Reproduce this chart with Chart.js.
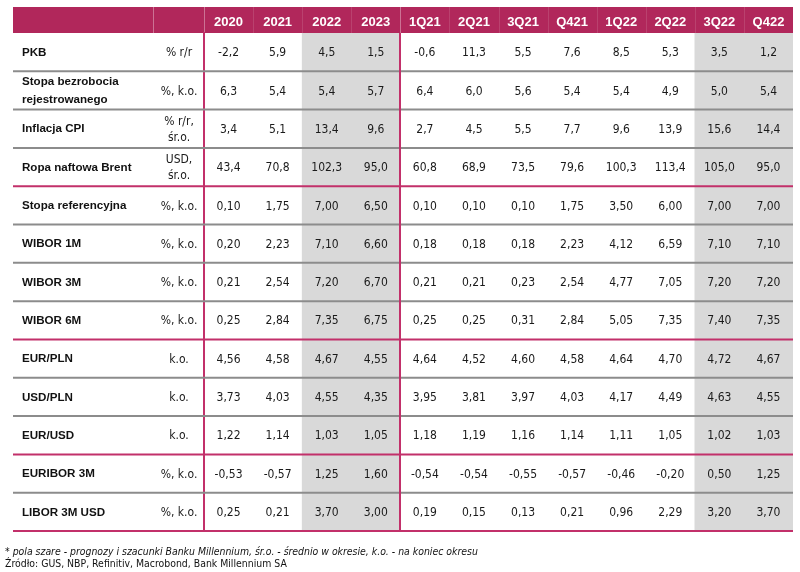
<!DOCTYPE html>
<html lang="pl">
<head>
<meta charset="utf-8">
<script src="https://cdn.jsdelivr.net/npm/chart.js@4.4.1/dist/chart.umd.min.js"></script>
<style>
  body { margin: 0; background: #fff; }
  #wrap { position: relative; width: 800px; height: 572px; }
  #note { position: absolute; left: 5px; top: 545px; font: 10.4px 'DejaVu Sans Condensed', 'DejaVu Sans', sans-serif; color: #111; line-height: 12px; }
  #note i { font-style: italic; }
</style>
</head>
<body>
<div id="wrap">
  <canvas id="tbl" width="800" height="572"></canvas>
  <div id="note">* <i>pola szare - prognozy i szacunki Banku Millennium, śr.o. - średnio w okresie, k.o. - na koniec okresu</i><br>Źródło: GUS, NBP, Refinitiv, Macrobond, Bank Millennium SA</div>
</div>
<script>
var FONT = "'DejaVu Sans Condensed', 'DejaVu Sans', sans-serif";
var BOLD = "'Liberation Sans', Arial, sans-serif";

// columns
var periods  = ['2020', '2021', '2022', '2023', '1Q21', '2Q21', '3Q21', 'Q421', '1Q22', '2Q22', '3Q22', 'Q422'];
var forecast = ['2022', '2023', '3Q22', 'Q422'];

// rows
var rowNames = [
    'PKB', ['Stopa bezrobocia', 'rejestrowanego'], 'Inflacja CPI', 'Ropa naftowa Brent',
    'Stopa referencyjna', 'WIBOR 1M', 'WIBOR 3M', 'WIBOR 6M',
    'EUR/PLN', 'USD/PLN', 'EUR/USD', 'EURIBOR 3M', 'LIBOR 3M USD'
];
var units = [
    ['% r/r'], ['%, k.o.'], ['% r/r,', 'śr.o.'], ['USD,', 'śr.o.'],
    ['%, k.o.'], ['%, k.o.'], ['%, k.o.'], ['%, k.o.'],
    ['k.o.'], ['k.o.'], ['k.o.'], ['%, k.o.'], ['%, k.o.']
];
var decimals  = [1, 1, 1, 1, 2, 2, 2, 2, 2, 2, 2, 2, 2];
var groupEnds = [3, 7, 10, 12];   // rows closed with a pink rule

var pkb        = [-2.2, 5.9, 4.5, 1.5, -0.6, 11.3, 5.5, 7.6, 8.5, 5.3, 3.5, 1.2];
var bezrobocie = [6.3, 5.4, 5.4, 5.7, 6.4, 6.0, 5.6, 5.4, 5.4, 4.9, 5.0, 5.4];
var cpi        = [3.4, 5.1, 13.4, 9.6, 2.7, 4.5, 5.5, 7.7, 9.6, 13.9, 15.6, 14.4];
var brent      = [43.4, 70.8, 102.3, 95.0, 60.8, 68.9, 73.5, 79.6, 100.3, 113.4, 105.0, 95.0];
var stopaRef   = [0.10, 1.75, 7.00, 6.50, 0.10, 0.10, 0.10, 1.75, 3.50, 6.00, 7.00, 7.00];
var wibor1m    = [0.20, 2.23, 7.10, 6.60, 0.18, 0.18, 0.18, 2.23, 4.12, 6.59, 7.10, 7.10];
var wibor3m    = [0.21, 2.54, 7.20, 6.70, 0.21, 0.21, 0.23, 2.54, 4.77, 7.05, 7.20, 7.20];
var wibor6m    = [0.25, 2.84, 7.35, 6.75, 0.25, 0.25, 0.31, 2.84, 5.05, 7.35, 7.40, 7.35];
var eurPln     = [4.56, 4.58, 4.67, 4.55, 4.64, 4.52, 4.60, 4.58, 4.64, 4.70, 4.72, 4.67];
var usdPln     = [3.73, 4.03, 4.55, 4.35, 3.95, 3.81, 3.97, 4.03, 4.17, 4.49, 4.63, 4.55];
var eurUsd     = [1.22, 1.14, 1.03, 1.05, 1.18, 1.19, 1.16, 1.14, 1.11, 1.05, 1.02, 1.03];
var euribor3m  = [-0.53, -0.57, 1.25, 1.60, -0.54, -0.54, -0.55, -0.57, -0.46, -0.20, 0.50, 1.25];
var libor3m    = [0.25, 0.21, 3.70, 3.00, 0.19, 0.15, 0.13, 0.21, 0.96, 2.29, 3.20, 3.70];

var rows = [pkb, bezrobocie, cpi, brent, stopaRef, wibor1m, wibor3m, wibor6m, eurPln, usdPln, eurUsd, euribor3m, libor3m];

var PINK = '#c2306a', HEAD = '#b1275b', RULE = '#8c8c8c', SHADE = '#d9d9d9';

function fmt(v, d) { return v.toFixed(d).replace('.', ','); }

var tablePlugin = {
    id: 'tablePlugin',
    beforeDraw: function(chart) {
        var c = chart.ctx, a = chart.chartArea;
        c.save();
        c.fillStyle = '#fff';
        c.fillRect(0, 0, chart.width, chart.height);
        c.fillStyle = HEAD;
        c.fillRect(13, 7, a.right - 13, a.top - 7);
        c.lineWidth = 1;
        var xs = chart.scales.x;
        // faint header dividers
        c.strokeStyle = 'rgba(255,255,255,0.12)';
        periods.forEach(function(p, j) {
            if (j === 0 || j === 4) return;
            var x = Math.round(xs.getPixelForValue(j - 0.5)) + 0.5;
            c.beginPath(); c.moveTo(x, 7); c.lineTo(x, a.top); c.stroke();
        });
        c.strokeStyle = 'rgba(255,255,255,0.35)';
        [153, a.left, xs.getPixelForValue(3.5)].forEach(function(x) {
            c.beginPath(); c.moveTo(Math.round(x) + 0.5, 7); c.lineTo(Math.round(x) + 0.5, a.top); c.stroke();
        });
        c.restore();
    },
    afterDatasetsDraw: function(chart) {
        var c = chart.ctx, a = chart.chartArea;
        var xs = chart.scales.x, ys = chart.scales.y;
        c.save();
        // row rules
        c.lineWidth = 2;
        rows.forEach(function(r, i) {
            var y = ys.getPixelForValue(i + 0.5);
            c.strokeStyle = groupEnds.indexOf(i) >= 0 ? PINK : RULE;
            c.beginPath(); c.moveTo(13, y); c.lineTo(a.right, y); c.stroke();
        });
        // values
        c.fillStyle = '#1a1a1a';
        c.textAlign = 'center';
        c.textBaseline = 'middle';
        c.font = '12px ' + FONT;
        rows.forEach(function(r, i) {
            var y = ys.getPixelForValue(i);
            r.forEach(function(v, j) {
                c.fillText(fmt(v, decimals[i]), xs.getPixelForValue(j), y + 1);
            });
        });
        // units
        units.forEach(function(u, i) {
            var y = ys.getPixelForValue(i);
            var top = y - (u.length - 1) * 8;
            u.forEach(function(line, k) {
                c.fillText(line, 179, top + k * 16 + 1);
            });
        });
        c.restore();
    }
};

new Chart(document.getElementById('tbl'), {
    type: 'bar',
    data: {
        labels: periods,
        datasets: [{
            data: periods.map(function(p) { return forecast.indexOf(p) >= 0 ? [-0.5, rows.length - 0.5] : null; }),
            backgroundColor: SHADE,
            borderWidth: 0,
            barPercentage: 1,
            categoryPercentage: 1
        }]
    },
    options: {
        responsive: false,
        animation: false,
        events: [],
        layout: { padding: { left: 22, right: 7, top: 7, bottom: 41 } },
        plugins: { legend: { display: false }, tooltip: { enabled: false } },
        scales: {
            x: {
                position: 'top',
                grid: {
                    offset: true, drawTicks: false, z: 1, lineWidth: 2,
                    color: function(ctx) { return ctx.index === 4 ? PINK : 'rgba(0,0,0,0)'; }
                },
                border: { display: false },
                ticks: { color: '#fff', font: { family: BOLD, size: 13, weight: 'bold' }, padding: 3, maxRotation: 0, autoSkip: false },
                afterFit: function(s) { s.height = 26; }
            },
            y: {
                type: 'linear',
                reverse: true,
                min: -0.5,
                max: rows.length - 0.5,
                grid: { display: false, drawTicks: false },
                border: { display: true, color: PINK, width: 2 },
                afterBuildTicks: function(s) { s.ticks = rowNames.map(function(n, i) { return { value: i }; }); },
                ticks: {
                    crossAlign: 'far',
                    padding: 0,
                    labelOffset: 0.5,
                    autoSkip: false,
                    color: '#111',
                    font: { family: BOLD, size: 11.6, weight: 'bold', lineHeight: 1.55 },
                    callback: function(v) { return rowNames[v]; }
                },
                afterFit: function(s) { s.width = 182; }
            }
        }
    },
    plugins: [tablePlugin]
});
</script>
</body>
</html>
